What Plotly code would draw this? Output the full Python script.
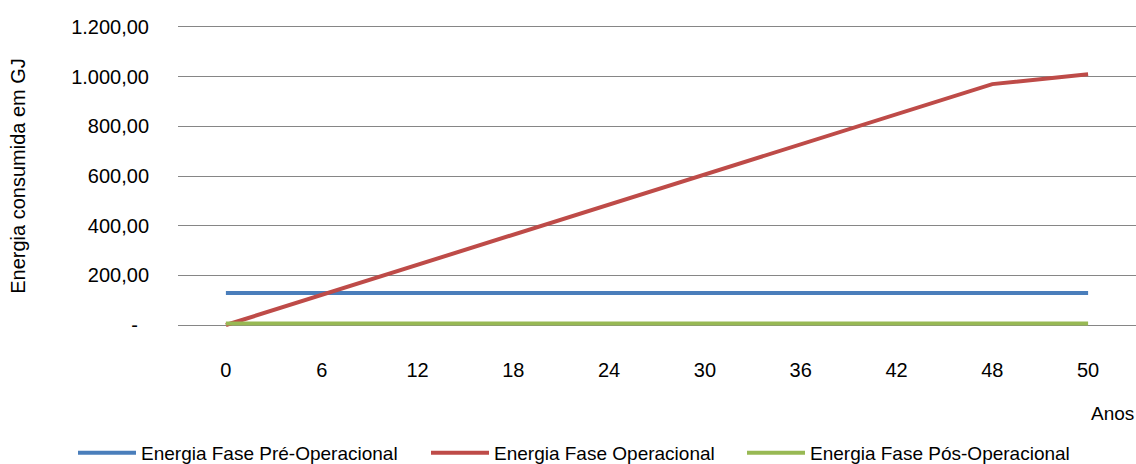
import plotly.graph_objects as go

# Anos (categorias do eixo X)
anos = ["0", "6", "12", "18", "24", "30", "36", "42", "48", "50"]

# Energia consumida em GJ por fase
energia_pre_operacional = [129, 129, 129, 129, 129, 129, 129, 129, 129, 129]
energia_operacional = [0, 121, 242, 364, 485, 606, 727, 848, 970, 1010]
energia_pos_operacional = [6, 6, 6, 6, 6, 6, 6, 6, 6, 6]

# Rótulos do eixo Y (formato pt-BR)
y_ticks = [0, 200, 400, 600, 800, 1000, 1200]
y_tick_text = ["-\u00a0\u00a0", "200,00", "400,00", "600,00", "800,00", "1.000,00", "1.200,00"]

FONT = "Liberation Sans, Arial, sans-serif"

series = [
    ("Energia Fase Pré-Operacional", energia_pre_operacional, "#4A7EBB", "legend"),
    ("Energia Fase Operacional", energia_operacional, "#BE4B48", "legend2"),
    ("Energia Fase Pós-Operacional", energia_pos_operacional, "#98B954", "legend3"),
]

fig = go.Figure()
for name, values, color, leg in series:
    fig.add_trace(go.Scatter(
        x=anos, y=values, name=name, mode="lines",
        line=dict(color=color, width=4),
        legend=leg, showlegend=True,
    ))

legend_common = dict(
    orientation="h", xref="container", yref="container",
    yanchor="middle", xanchor="left", y=0.024,
    font=dict(family=FONT, size=19, color="#000000"),
    bgcolor="rgba(0,0,0,0)", itemwidth=58, visible=True,
)

fig.update_layout(
    width=1136, height=464,
    margin=dict(l=178, r=0, t=25, b=137),
    paper_bgcolor="white", plot_bgcolor="white",
    font=dict(family=FONT, size=20, color="#000000"),
    showlegend=True,
    legend=dict(x=73 / 1136, **legend_common),
    legend2=dict(x=426 / 1136, **legend_common),
    legend3=dict(x=742 / 1136, **legend_common),
    xaxis=dict(
        type="category", range=[-0.5, 9.5],
        showgrid=False, showline=False, zeroline=False,
        ticks="", ticklabelstandoff=29,
        tickfont=dict(family=FONT, size=20),
    ),
    yaxis=dict(
        range=[-8, 1208], tickvals=y_ticks, ticktext=y_tick_text,
        showgrid=True, gridcolor="#868686", gridwidth=1,
        zeroline=True, zerolinecolor="#868686", zerolinewidth=1,
        showline=False, ticks="",
        ticklabelstandoff=28,
        tickfont=dict(family=FONT, size=20),
        title=dict(text="Energia consumida em GJ", font=dict(family=FONT, size=20), standoff=40),
    ),
    annotations=[dict(
        text="Anos", xref="paper", yref="paper", x=1, y=-0.285,
        xanchor="right", yanchor="middle", showarrow=False,
        font=dict(family=FONT, size=19),
    )],
)

fig.write_html("out.html")
